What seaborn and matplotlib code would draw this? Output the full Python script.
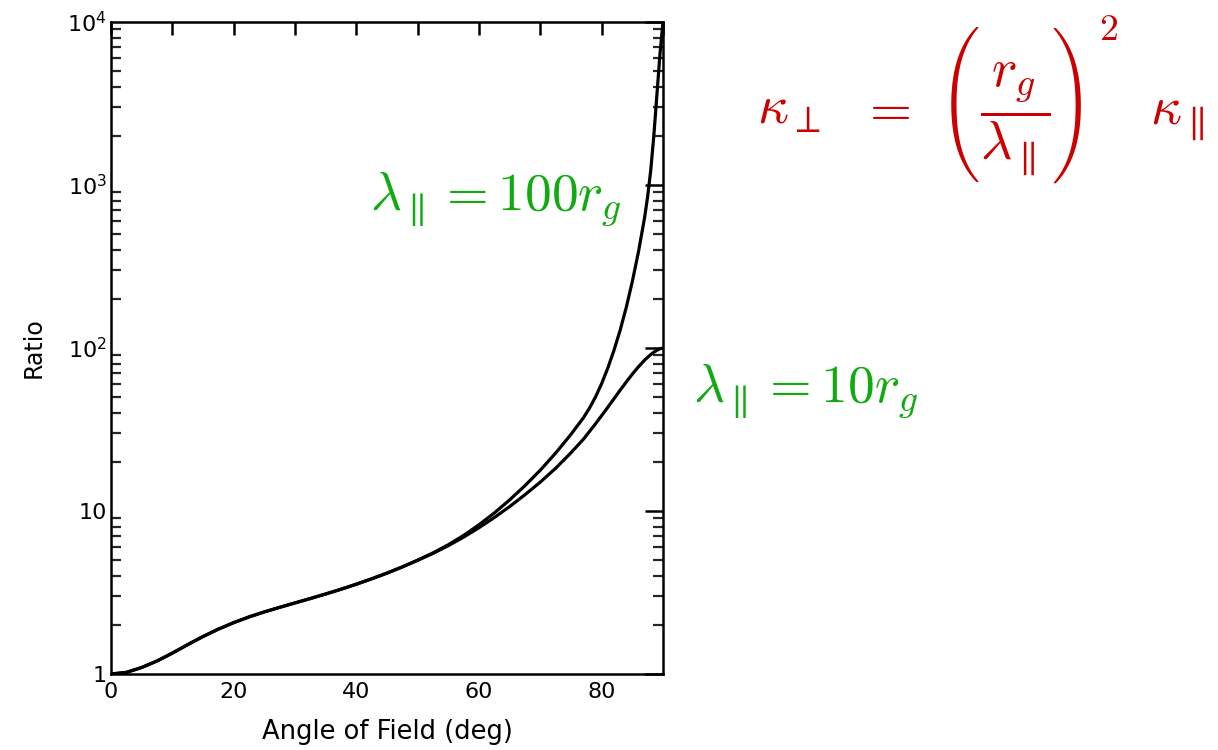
import os
import numpy as np
import pandas as pd
import matplotlib
matplotlib.use("Agg")
import matplotlib.pyplot as plt
import matplotlib.ticker as mticker
from matplotlib.font_manager import FontProperties
import seaborn as sns

# Angle of the field (deg) and the ratio for the two mean free paths
angle_100 = [0, 2.5, 5, 7.5, 10, 12.5, 15, 17.5, 20, 22.5, 25, 27.5, 30, 32.5,
             35, 37.5, 40, 42.5, 45, 47.5, 50, 52.5, 55, 57.5, 60, 62.5, 65,
             67.5, 70, 72.5, 75, 77, 78, 79, 80, 81, 82, 83, 84, 85, 86, 87,
             87.5, 88, 88.5, 89, 89.5, 90]
ratio_100 = [1.00, 1.023, 1.096, 1.202, 1.343, 1.514, 1.698, 1.884, 2.065,
             2.239, 2.404, 2.564, 2.729, 2.904, 3.097, 3.311, 3.556, 3.837,
             4.159, 4.539, 4.989, 5.534, 6.209, 7.087, 8.234, 9.727, 11.70,
             14.31, 17.81, 22.67, 29.54, 37.2, 42.7, 50.1, 60.5, 75.3, 96.6,
             128, 177, 256, 389, 631, 851, 1230, 1995, 3550, 6310, 10000]

angle_10 = [0, 2.5, 5, 7.5, 10, 12.5, 15, 17.5, 20, 22.5, 25, 27.5, 30, 32.5,
            35, 37.5, 40, 42.5, 45, 47.5, 50, 52.5, 55, 57.5, 60, 62.5, 65,
            67.5, 70, 72.5, 75, 77, 78, 79, 80, 81, 82, 83, 84, 85, 86, 87,
            88, 88.5, 89, 89.5, 90]
ratio_10 = [1.00, 1.023, 1.096, 1.202, 1.343, 1.514, 1.698, 1.884, 2.065,
            2.239, 2.404, 2.564, 2.729, 2.904, 3.097, 3.311, 3.556, 3.837,
            4.159, 4.539, 4.989, 5.495, 6.131, 6.918, 7.898, 9.120, 10.65,
            12.59, 15.05, 18.30, 22.78, 27.5, 30.7, 34.3, 38.5, 43.3, 48.8,
            55.0, 61.8, 69.2, 76.7, 84.3, 91.2, 94.2, 96.8, 98.9, 100.0]

x_ticks = [0, 10, 20, 30, 40, 50, 60, 70, 80, 90]
x_tick_labels = ["0", "", "20", "", "40", "", "60", "", "80", ""]
y_ticks = [1, 10, 100, 1000, 10000]
y_tick_labels = ["1", "10", r"$10^{2}$", r"$10^{3}$", r"$10^{4}$"]

label_100 = r"$\lambda_{\parallel} = 100 r_g$"
label_10 = r"$\lambda_{\parallel} = 10 r_g$"

df = pd.concat([
    pd.DataFrame({"angle": angle_100, "ratio": ratio_100, "case": "100"}),
    pd.DataFrame({"angle": angle_10, "ratio": ratio_10, "case": "10"}),
])

sns.set_style("white")
plt.rcParams["font.family"] = ["DejaVu Sans"]
plt.rcParams["mathtext.fontset"] = "cm"

W, H = 1218, 750
fig = plt.figure(figsize=(W / 100, H / 100), dpi=100)
ax = fig.add_axes([111 / W, 1 - 674 / H, 552 / W, 652 / H])

sns.lineplot(data=df, x="angle", y="ratio", units="case", estimator=None,
             color="black", linewidth=2.3, ax=ax, legend=False, sort=False)

ax.set_yscale("log")
ax.set_xlim(0, 90)
ax.set_ylim(1, 1e4)

ax.set_xticks(x_ticks)
ax.set_xticklabels(x_tick_labels)
ax.set_yticks(y_ticks)
ax.set_yticklabels(y_tick_labels)
for lab in ax.get_yticklabels():
    lab.set_math_fontfamily("dejavusans")
ax.yaxis.set_minor_locator(mticker.LogLocator(base=10, subs=np.arange(2, 10)))
ax.yaxis.set_minor_formatter(mticker.NullFormatter())
ax.xaxis.set_minor_locator(mticker.NullLocator())

ax.tick_params(axis="both", which="major", direction="in", top=True,
               right=True, width=1.8, labelsize=16, color="black",
               labelcolor="black")
ax.tick_params(axis="x", which="major", length=9.5, pad=6)
ax.tick_params(axis="y", which="major", length=13, pad=3)
ax.tick_params(axis="y", which="minor", direction="in", left=True,
               right=True, length=7.5, width=1.6)

for s in ax.spines.values():
    s.set_linewidth(1.8)
    s.set_color("black")

ax.set_xlabel("Angle of Field (deg)", fontsize=18.5, labelpad=12,
              color="black")
ax.set_ylabel("Ratio", fontsize=17, labelpad=16, color="black")
ax.grid(False)


def fx(px):
    return px / W


def fy(py):
    return 1 - py / H


green = "#11aa11"
red = "#cc0000"
fs = 39

# curve labels
fig.text(fx(370), fy(209), label_100, color=green, fontsize=38.5,
         ha="left", va="baseline")
fig.text(fx(693), fy(401), label_10, color=green, fontsize=38.5,
         ha="left", va="baseline")

# kappa_perp = (r_g / lambda_par)^2 kappa_par, set piece by piece
cmex = FontProperties(fname=os.path.join(matplotlib.get_data_path(),
                                         "fonts", "ttf", "cmex10.ttf"),
                      size=37.5)
base = 124
fig.text(fx(757), fy(base), r"$\kappa_{\perp}$", color=red, fontsize=fs,
         ha="left", va="baseline")
fig.text(fx(860), fy(base), r"$=$", color=red, fontsize=fs,
         ha="left", va="baseline")
fig.text(fx(939), fy(105), "\xc3", color=red, fontproperties=cmex,
         ha="left", va="center")
fig.text(fx(1015), fy(base), r"$\dfrac{r_g}{\lambda_{\parallel}}$",
         color=red, fontsize=fs, ha="center", va="baseline")
fig.text(fx(1051), fy(105), "!", color=red, fontproperties=cmex,
         ha="left", va="center")
fig.text(fx(1099), fy(12), r"$2$", color=red, fontsize=fs * 0.7,
         ha="left", va="top")
fig.text(fx(1150), fy(base), r"$\kappa_{\parallel}$", color=red,
         fontsize=fs, ha="left", va="baseline")

fig.savefig("out.png", dpi=100, facecolor="white")
